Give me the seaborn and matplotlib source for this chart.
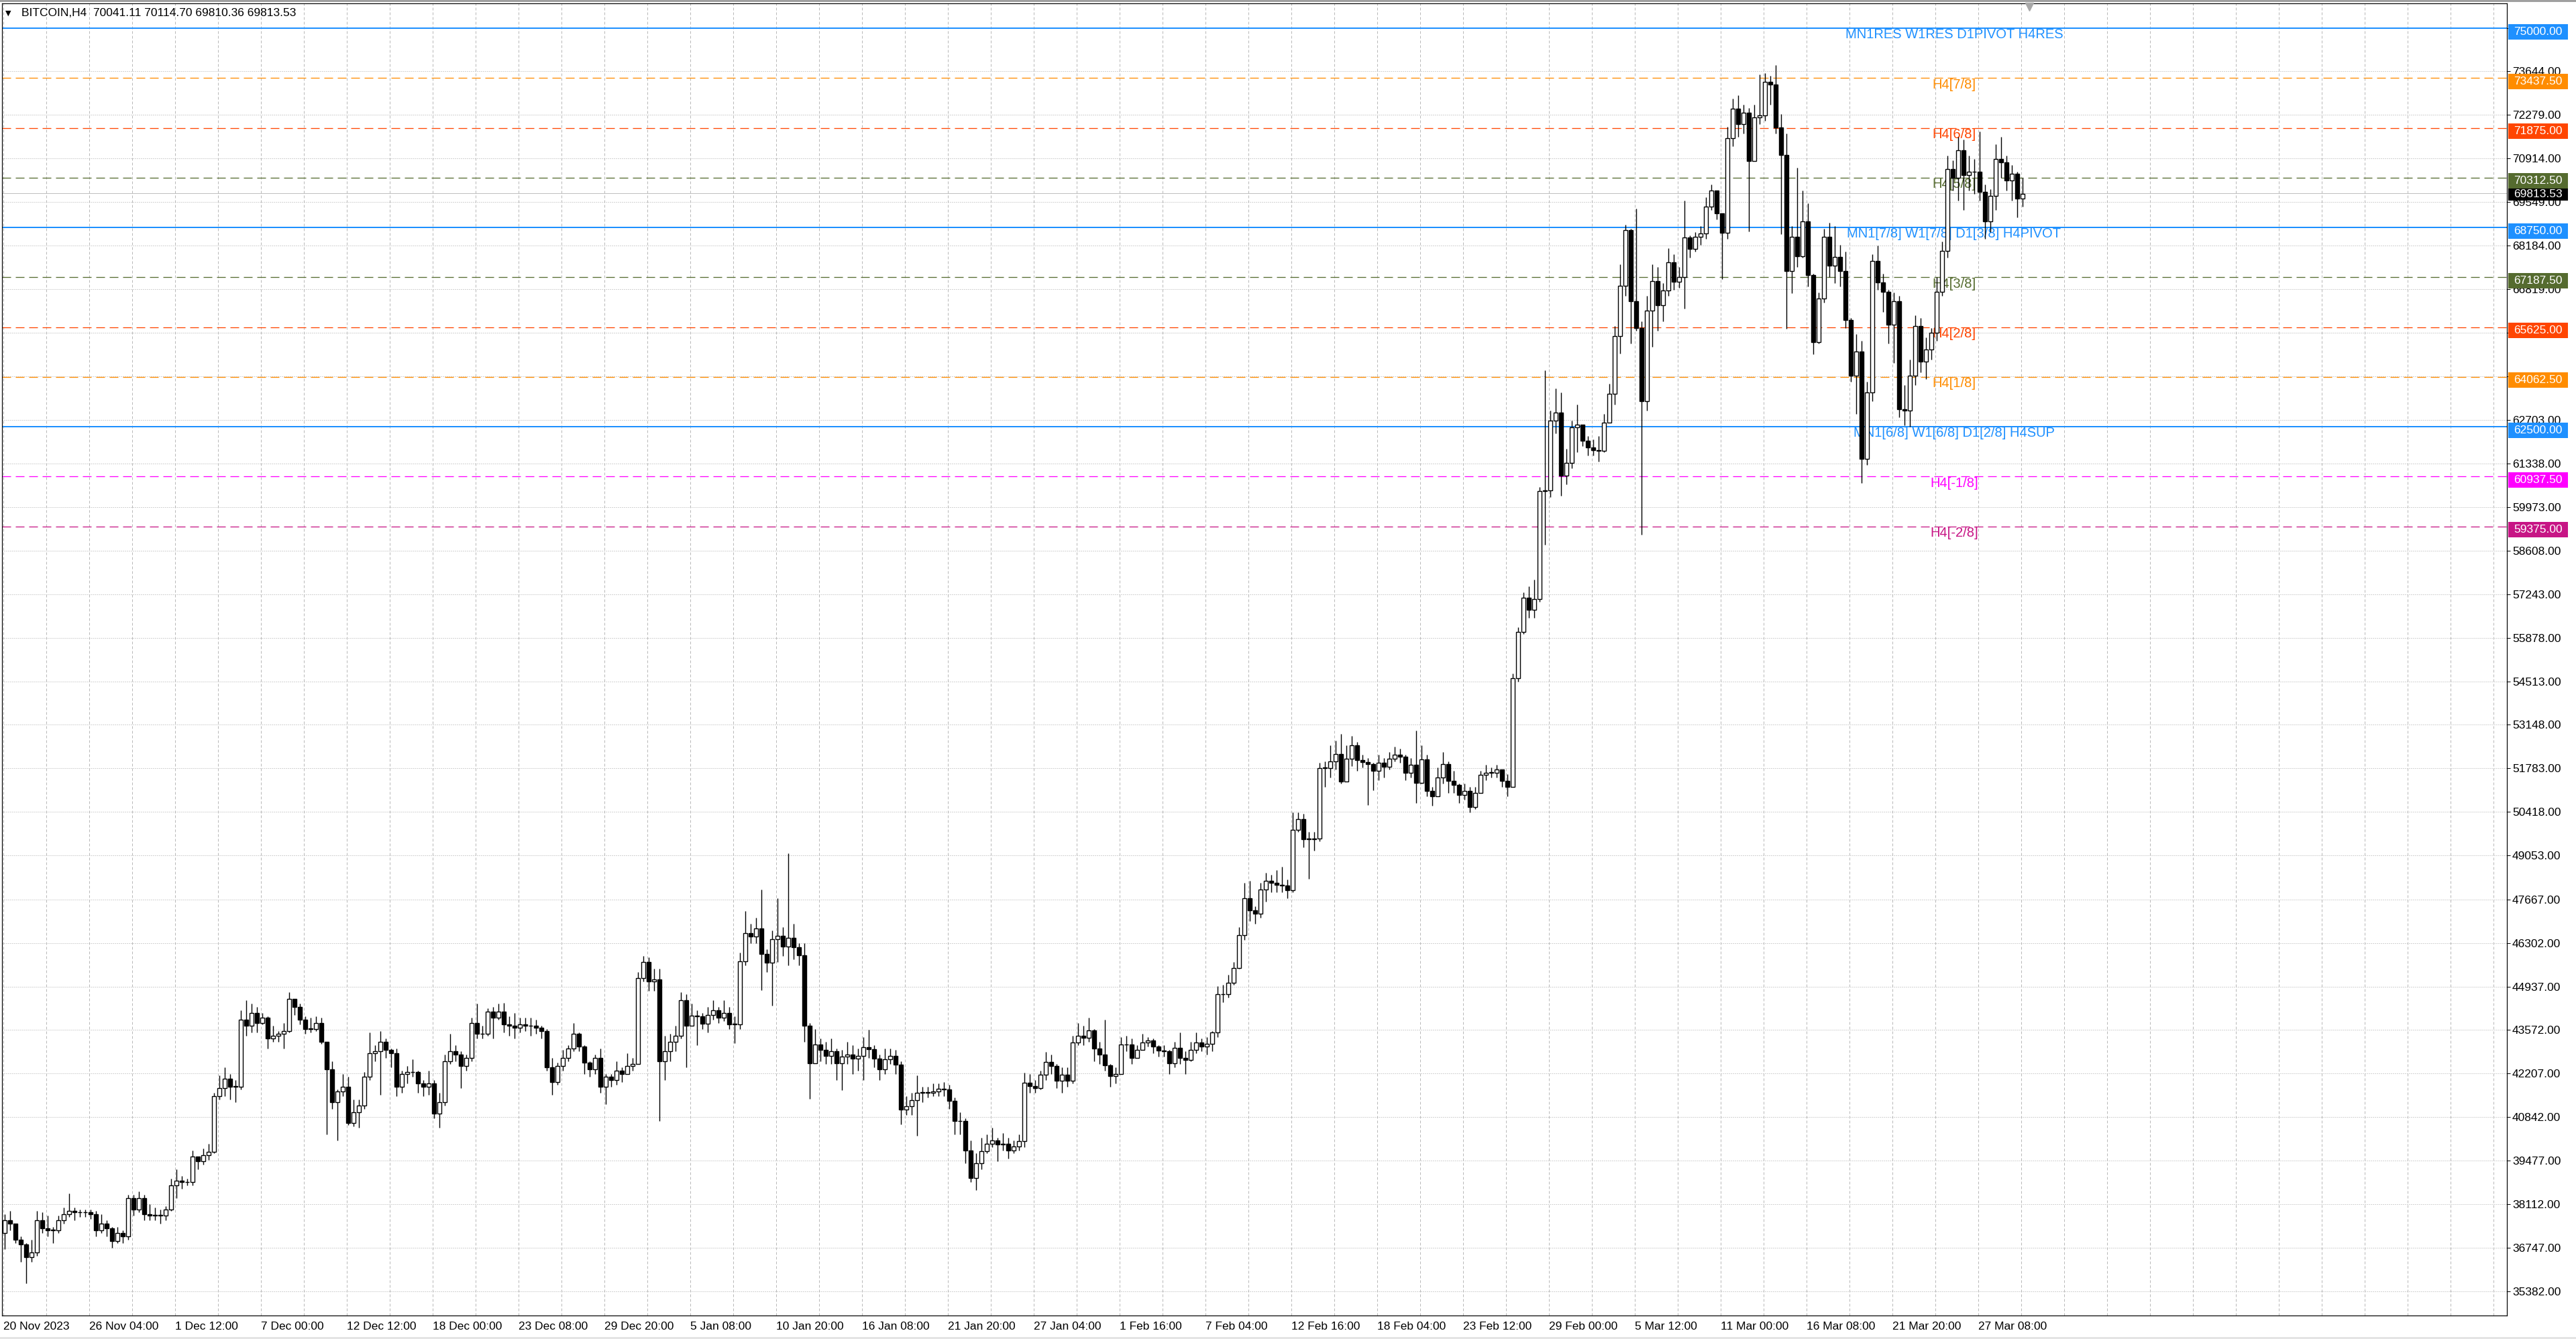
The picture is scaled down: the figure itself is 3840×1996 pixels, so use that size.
import numpy as np
import pandas as pd
import matplotlib
matplotlib.use("Agg")
import matplotlib.pyplot as plt
import seaborn as sns
from matplotlib.patches import Rectangle
from matplotlib.transforms import blended_transform_factory

first_open = 37.2
close_k = [
    # 20 Nov - 12 Dec
    37.6, 37.5, 37.0, 36.85, 36.45, 36.6, 37.6, 37.35, 37.3, 37.3, 37.6, 37.8, 37.9, 37.85, 37.85, 37.85,
    37.8, 37.3, 37.5, 37.35, 36.95, 37.2, 37.1, 38.3, 37.95, 38.3, 37.8, 37.75, 37.75, 37.75, 37.95, 38.7,
    38.85, 38.8, 38.8, 39.6, 39.45, 39.65, 39.75, 41.5, 41.75, 42.05, 41.8, 41.8, 43.9, 43.7, 44.1, 43.8,
    43.95, 43.3, 43.4, 43.45, 43.55, 44.55, 44.3, 43.9, 43.6, 43.6, 43.8, 43.2, 42.35, 41.3, 41.65, 41.8,
    # 12 Dec - 5 Jan
    40.65, 41.0, 41.2, 42.1, 42.85, 42.9, 43.2, 42.95, 42.85, 41.8, 42.2, 42.25, 42.25, 41.9, 41.8, 41.9,
    40.95, 41.3, 42.6, 42.9, 42.8, 42.45, 42.7, 43.8, 43.45, 43.45, 44.15, 43.95, 44.15, 43.75, 43.7, 43.65,
    43.75, 43.7, 43.7, 43.65, 43.55, 42.4, 41.95, 42.45, 42.7, 43.0, 43.45, 43.05, 42.55, 42.35, 42.7, 41.8,
    42.1, 42.0, 42.3, 42.2, 42.45, 42.5, 45.2, 45.7, 45.1, 45.15, 42.6, 42.9, 43.2, 43.4, 44.5, 43.7,
    # 5 Jan - 27 Jan
    44.03, 44.0, 43.77, 44.04, 44.19, 43.97, 44.11, 43.75, 43.75, 45.72, 46.62, 46.51, 46.75, 45.96, 45.69, 46.42,
    46.53, 46.2, 46.46, 46.17, 45.91, 43.7, 42.54, 43.11, 42.95, 42.76, 42.9, 42.52, 42.75, 42.81, 42.68, 42.76,
    43.04, 42.97, 42.67, 42.35, 42.65, 42.76, 42.48, 41.07, 41.19, 41.37, 41.6, 41.63, 41.6, 41.65, 41.73, 41.7,
    41.36, 40.71, 40.71, 39.8, 38.93, 39.39, 39.78, 40.0, 40.1, 39.98, 40.0, 39.8, 39.93, 40.08, 41.91, 41.82,
    # 27 Jan - 18 Feb
    41.76, 42.17, 42.58, 42.44, 41.98, 42.17, 41.99, 43.19, 43.4, 43.33, 43.56, 42.99, 42.81, 42.46, 42.14, 42.2,
    43.11, 43.12, 42.69, 42.95, 43.19, 43.25, 43.05, 42.92, 42.9, 42.52, 43.02, 42.7, 42.64, 42.95, 43.19, 43.05,
    43.14, 43.49, 44.69, 44.7, 45.06, 45.51, 46.54, 47.7, 47.33, 47.22, 47.97, 48.26, 48.2, 48.13, 48.1, 47.96,
    49.86, 50.2, 49.56, 49.56, 49.58, 51.79, 51.79, 52.0, 52.23, 51.36, 52.09, 52.51, 52.04, 51.97,
    # 18 Feb - 8 Mar
    51.92, 51.7, 51.96, 51.83, 52.08, 52.21, 52.15, 51.64, 51.9, 51.33, 52.06, 51.07, 50.91, 51.5, 51.92, 51.39,
    51.26, 50.95, 51.07, 50.57, 51.01, 51.58, 51.64, 51.64, 51.74, 51.39, 51.2, 54.61, 56.06, 57.13, 56.76, 57.1,
    60.48, 60.5, 62.69, 62.94, 60.96, 61.36, 62.47, 62.56, 62.06, 61.85, 61.77, 61.74, 62.63, 63.54, 65.34, 66.92,
    68.66, 66.44, 65.6, 63.3, 66.14, 67.07, 66.31, 66.77, 67.65, 67.05, 67.2, 68.44, 68.08, 68.46, 68.56,
    # 8 Mar - 28 Mar
    69.4, 69.91, 69.2, 68.58, 71.55, 72.48, 71.99, 72.35, 70.84, 72.21, 72.26, 73.32, 73.23, 71.89, 71.02, 67.39,
    68.45, 67.85, 68.94, 67.25, 65.16, 66.52, 68.45, 67.56, 67.83, 67.39, 65.84, 64.11, 64.86, 61.5, 63.58, 67.7,
    67.03, 66.72, 65.7, 66.43, 63.05, 63.0, 64.11, 65.66, 64.55, 64.91, 65.44, 66.72, 68.01, 70.59, 70.31, 71.18,
    70.4, 70.49, 70.49, 69.87, 68.94, 69.73, 70.89, 70.8, 70.22, 70.44, 69.65, 69.81,
]
high_k = [
    37.8, 37.9, 37.5, 37.1, 36.9, 37.0, 37.9, 37.85, 37.75, 37.4, 37.75, 38.0, 38.45, 38.0, 37.95, 37.95,
    37.95, 37.9, 37.8, 37.6, 37.4, 37.4, 37.3, 38.4, 38.4, 38.5, 38.4, 38.1, 38.0, 37.95, 38.05, 38.9,
    39.2, 39.0, 38.9, 39.8, 39.6, 39.85, 40.0, 41.6, 42.15, 42.4, 42.2, 42.0, 44.2, 44.5, 44.4, 44.3,
    44.1, 44.0, 43.7, 43.55, 43.8, 44.75, 44.55, 44.4, 44.0, 43.95, 44.0, 43.95, 43.2, 42.6, 41.7, 42.2,
    42.1, 41.4, 41.4, 42.25, 43.5, 43.1, 43.55, 43.3, 43.0, 43.0, 42.3, 42.45, 42.65, 42.3, 42.0, 42.3,
    42.0, 41.6, 42.8, 43.45, 43.1, 42.9, 42.8, 43.95, 44.4, 43.7, 44.25, 44.3, 44.4, 44.43, 44.0, 44.1,
    43.95, 43.95, 43.95, 43.9, 43.7, 43.6, 42.7, 42.55, 42.95, 43.1, 43.8, 43.5, 43.1, 42.6, 42.8, 43.0,
    42.2, 42.2, 42.6, 42.4, 42.85, 42.7, 45.4, 45.9, 45.85, 45.5, 45.5, 43.4, 43.45, 43.7, 44.75, 44.7,
    44.4, 44.2, 44.1, 44.3, 44.5, 44.3, 44.5, 44.3, 44.0, 46.0, 47.3, 46.9, 47.1, 47.97, 46.1, 46.7,
    47.7, 46.8, 49.11, 46.9, 46.3, 46.3, 43.8, 43.6, 43.3, 43.2, 43.3, 43.0, 42.95, 43.2, 43.1, 43.0,
    43.36, 43.59, 43.1, 42.8, 43.0, 43.0, 42.95, 42.6, 41.5, 41.6, 42.16, 41.8, 41.8, 41.9, 41.9, 41.95,
    41.85, 41.45, 41.0, 40.8, 40.1, 39.7, 40.2, 40.3, 40.5, 40.2, 40.35, 40.2, 40.1, 40.3, 42.24, 42.2,
    42.0, 42.3, 42.89, 42.8, 42.5, 42.4, 42.4, 43.4, 43.8, 43.7, 43.95, 43.6, 43.2, 43.9, 42.5, 42.4,
    43.35, 43.4, 43.3, 43.1, 43.45, 43.35, 43.3, 43.1, 43.1, 42.95, 43.2, 43.5, 42.9, 43.2, 43.5, 43.3,
    43.35, 43.55, 44.95, 45.0, 45.3, 45.7, 46.8, 48.2, 48.25, 47.45, 48.2, 48.5, 48.45, 48.6, 48.7, 48.3,
    50.4, 50.4, 50.35, 49.8, 49.8, 51.95, 52.0, 52.5, 52.65, 52.86, 52.5, 52.8, 52.6, 52.2,
    52.1, 51.95, 52.2, 52.1, 52.3, 52.46, 52.4, 52.2, 52.1, 52.97, 52.5, 52.2, 51.2, 51.8, 52.3, 52.0,
    51.7, 51.3, 51.3, 51.2, 51.2, 51.7, 51.9, 51.8, 51.9, 51.75, 51.6, 54.75, 56.2, 57.3, 57.5, 57.7,
    60.6, 64.27, 63.0, 63.7, 63.57, 61.8, 62.7, 63.2, 62.5, 62.2, 62.1, 62.2, 62.9, 63.85, 65.65, 67.6,
    68.84, 68.7, 69.34, 65.8, 66.6, 67.6, 67.5, 67.0, 68.1, 67.9, 67.5, 69.6, 68.5, 68.6, 68.8,
    69.7, 70.09, 69.7, 69.2, 71.9, 72.8, 72.9, 72.6, 72.5, 72.6, 73.55, 73.6, 73.5, 73.85, 72.3, 71.7,
    68.8, 70.62, 69.9, 69.5, 67.3, 66.7, 68.7, 68.9, 68.8, 68.2, 68.0, 65.9, 65.4, 65.2, 63.9, 67.9,
    68.18, 67.3, 66.8, 66.7, 66.6, 63.8, 64.6, 66.0, 65.9, 65.3, 65.6, 67.2, 68.3, 71.0, 70.86, 71.6,
    71.5, 71.0, 70.9, 71.77, 70.1, 69.95, 71.37, 71.6, 71.0, 70.7, 70.5, 70.3,
]
low_k = [
    36.7, 37.3, 36.9, 36.3, 35.62, 36.3, 36.5, 37.2, 37.1, 36.9, 37.2, 37.5, 37.7, 37.6, 37.7, 37.7,
    37.65, 37.1, 37.2, 37.1, 36.75, 36.9, 36.9, 37.0, 37.75, 37.85, 37.6, 37.6, 37.6, 37.5, 37.6, 37.9,
    38.3, 38.6, 38.7, 38.7, 39.2, 39.35, 39.5, 39.7, 41.4, 41.5, 41.4, 41.3, 41.7, 43.4, 43.5, 43.5,
    43.75, 43.0, 43.2, 43.2, 43.0, 43.5, 44.05, 43.75, 43.45, 43.5, 43.55, 43.15, 40.3, 41.1, 40.1, 41.5,
    40.6, 40.55, 40.5, 41.1, 42.0, 42.6, 41.55, 42.7, 42.4, 41.5, 41.6, 41.9, 42.1, 41.6, 41.5, 41.55,
    40.8, 40.5, 41.2, 42.5, 42.6, 41.75, 42.3, 42.6, 43.3, 43.3, 43.4, 43.3, 43.9, 43.5, 43.4, 43.3,
    43.5, 43.55, 43.4, 43.45, 43.3, 42.3, 41.55, 41.85, 42.3, 42.6, 42.9, 42.9, 42.2, 42.1, 42.2, 41.6,
    41.25, 41.8, 41.85, 41.95, 42.2, 42.3, 43.35, 45.1, 44.8, 44.8, 40.72, 42.0, 42.6, 42.9, 43.3, 42.4,
    43.7, 43.1, 43.6, 43.5, 43.9, 43.8, 43.85, 43.6, 43.17, 43.6, 45.6, 46.3, 46.3, 44.82, 45.4, 44.33,
    45.7, 45.9, 45.6, 45.8, 45.6, 43.2, 41.41, 42.6, 42.6, 42.5, 42.5, 42.0, 41.69, 42.5, 42.2, 42.3,
    42.0, 42.7, 42.4, 42.0, 42.2, 42.5, 42.2, 40.62, 40.9, 40.9, 40.25, 41.3, 41.45, 41.5, 41.5, 41.5,
    41.1, 40.3, 40.3, 39.4, 38.8, 38.56, 39.2, 39.7, 39.9, 39.46, 39.8, 39.55, 39.7, 39.8, 39.9, 41.6,
    41.6, 41.7, 42.0, 42.2, 41.75, 41.6, 41.8, 41.9, 43.1, 43.1, 43.2, 42.6, 42.5, 42.3, 41.8, 41.9,
    42.2, 42.9, 42.5, 42.7, 43.0, 43.05, 42.85, 42.75, 42.75, 42.2, 42.4, 42.5, 42.2, 42.6, 42.85, 42.9,
    42.8, 42.9, 43.35, 44.45, 44.6, 45.0, 45.5, 46.4, 47.0, 46.9, 47.1, 47.6, 47.9, 47.9, 47.9, 47.7,
    47.9, 49.8, 49.3, 48.32, 49.2, 49.5, 51.2, 51.5, 51.75, 51.3, 51.4, 51.85, 51.7, 51.8,
    50.63, 51.1, 51.4, 51.5, 51.75, 52.0, 51.95, 51.4, 51.5, 50.7, 51.3, 50.9, 50.6, 50.9, 51.3, 51.0,
    51.0, 50.7, 50.8, 50.4, 50.5, 51.0, 51.4, 51.5, 51.5, 51.2, 50.9, 51.2, 54.5, 56.0, 56.5, 56.5,
    57.0, 58.8, 60.3, 62.3, 60.33, 60.7, 61.2, 61.7, 61.9, 61.6, 61.6, 61.4, 61.7, 62.8, 63.2, 64.8,
    66.6, 65.1, 65.5, 59.12, 63.0, 65.0, 65.5, 65.8, 66.6, 66.8, 66.85, 66.2, 67.8, 68.0, 68.2,
    68.4, 69.3, 69.0, 67.12, 68.4, 71.3, 71.6, 71.7, 68.63, 71.0, 72.0, 72.1, 72.6, 71.7, 68.54, 65.57,
    66.68, 67.5, 67.8, 66.9, 64.77, 65.1, 66.4, 67.2, 67.0, 66.9, 65.6, 63.9, 62.9, 60.74, 61.3, 63.3,
    66.8, 66.1, 65.1, 64.5, 62.8, 62.55, 62.5, 63.8, 64.2, 64.0, 64.6, 65.2, 66.6, 67.8, 69.9, 69.6,
    69.3, 69.9, 69.8, 69.6, 68.4, 68.6, 69.3, 70.3, 69.9, 69.6, 69.07, 69.4,
]

date_labels = ["20 Nov 2023", "26 Nov 04:00", "1 Dec 12:00", "7 Dec 00:00", "12 Dec 12:00",
               "18 Dec 00:00", "23 Dec 08:00", "29 Dec 20:00", "5 Jan 08:00", "10 Jan 20:00",
               "16 Jan 08:00", "21 Jan 20:00", "27 Jan 04:00", "1 Feb 16:00", "7 Feb 04:00",
               "12 Feb 16:00", "18 Feb 04:00", "23 Feb 12:00", "29 Feb 00:00", "5 Mar 12:00",
               "11 Mar 00:00", "16 Mar 08:00", "21 Mar 20:00", "27 Mar 08:00"]
price_ticks = [75009, 73644, 72279, 70914, 69549, 68184, 66819, 65454, 64089, 62703, 61338, 59973,
               58608, 57243, 55878, 54513, 53148, 51783, 50418, 49053, 47667, 46302, 44937, 43572,
               42207, 40842, 39477, 38112, 36747, 35382]

levels = [75000, 73437.5, 71875, 70312.5, 68750, 67187.5, 65625, 64062.5, 62500, 60937.5, 59375]
level_names = ["MN1RES W1RES D1PIVOT H4RES", "H4[7/8]", "H4[6/8]", "H4[5/8]",
               "MN1[7/8] W1[7/8] D1[3/8] H4PIVOT", "H4[3/8]", "H4[2/8]", "H4[1/8]",
               "MN1[6/8] W1[6/8] D1[2/8] H4SUP", "H4[-1/8]", "H4[-2/8]"]
level_colors = ["#1E90FF", "#FF8C00", "#FF4500", "#556B2F", "#1E90FF", "#556B2F",
                "#FF4500", "#FF8C00", "#1E90FF", "#FF00FF", "#C71585"]
last_price = 69813.53
header = "BITCOIN,H4  70041.11 70114.70 69810.36 69813.53"

# ---- layout (pixels of the 3840x1996 screenshot) ----
W, H, DPI = 3840, 1996, 100
PX = 72 / DPI
USD_PX = 21.044          # dollars per screen pixel

sns.set_theme(style="white")
plt.rcParams["font.family"] = ["Liberation Sans", "DejaVu Sans"]
plt.rcParams["lines.scale_dashes"] = False

df = pd.DataFrame({"close": np.array(close_k) * 1000,
                   "high": np.array(high_k) * 1000,
                   "low": np.array(low_k) * 1000})
df["open"] = np.r_[first_open * 1000, df["close"].values[:-1]]
df["high"] = df[["high", "open", "close"]].max(axis=1)
df["low"] = df[["low", "open", "close"]].min(axis=1)
df["x"] = 2 * np.arange(len(df)) + 0.5      # two H4 bars per candle
df["up"] = df["close"] >= df["open"]

fig = plt.figure(figsize=(W / DPI, H / DPI), dpi=DPI)
fig.patch.set_facecolor("white")
ax = fig.add_axes([3 / W, (H - 1961) / H, (3737 - 3) / W, (1961 - 5) / H])
ax.set_facecolor("white")
ax.set_xlim(-0.5, 933)
ax.set_ylim(34617, 75779)

# grid
for p in price_ticks:
    ax.axhline(p, color="#A8A8A8", lw=1 * PX, ls=(0, (1 * PX, 2 * PX)), zorder=0)
for gx in range(0, 934, 16):
    ax.axvline(gx, color="#B8B8B8", lw=1 * PX, ls=(0, (4 * PX, 3 * PX)), zorder=0)

# level lines and names
for lv, name, col in zip(levels, level_names, level_colors):
    if col == "#1E90FF":
        ax.axhline(lv, color=col, lw=2 * PX, zorder=1)
    else:
        ax.axhline(lv, color=col, lw=1.3 * PX, ls=(0, (13 * PX, 7 * PX)), zorder=1)
    ax.text(727, lv - 210, name, color=col, fontsize=14.5, ha="center", va="center", zorder=2)
ax.axhline(last_price, color="#C0C0C0", lw=1 * PX, zorder=1)

# candles
ax.vlines(df["x"], df["low"], df["high"], color="black", lw=1.4 * PX, zorder=3)
body_lo = df[["open", "close"]].min(axis=1)
body_h = (df["close"] - df["open"]).abs().clip(lower=15)
ax.bar(df["x"], body_h, bottom=body_lo, width=1.3,
       color=np.where(df["up"], "white", "black"), edgecolor="black",
       linewidth=1.4 * PX, zorder=4)

# axes frame and ticks
for s in ax.spines.values():
    s.set_color("black")
    s.set_linewidth(1.2 * PX)
ax.set_xticks([32 * k for k in range(len(date_labels))])
ax.set_xticklabels(date_labels, ha="left")
ax.yaxis.tick_right()
ax.set_yticks(price_ticks)
ax.set_yticklabels([f"{p:.2f}" for p in price_ticks])
ax.tick_params(axis="both", direction="out", length=5 * PX, width=1 * PX, color="black",
               labelsize=12.5, labelcolor="black", pad=3 * PX)
ax.tick_params(axis="x", pad=4 * PX)

# coloured price boxes on the right scale
tr = blended_transform_factory(fig.transFigure, ax.transData)
bx0, bw = 3739 / W, 89 / W
for lv, col in zip(levels, level_colors):
    yc = lv - 5 * USD_PX
    ax.add_patch(Rectangle((bx0, yc - 11.5 * USD_PX), bw, 23 * USD_PX, transform=tr,
                           facecolor=col, edgecolor="none", clip_on=False, zorder=10))
    ax.text(bx0 + bw / 2, yc, f"{lv:.2f}", transform=tr, color="white", fontsize=12.5,
            ha="center", va="center", zorder=11, clip_on=False)
yc = last_price - 1.5 * USD_PX
ax.add_patch(Rectangle((bx0, yc - 9 * USD_PX), bw, 18 * USD_PX, transform=tr,
                       facecolor="black", edgecolor="none", clip_on=False, zorder=12))
ax.text(bx0 + bw / 2, yc, f"{last_price:.2f}", transform=tr, color="white", fontsize=12.5,
        ha="center", va="center", zorder=13, clip_on=False)

# chart shift marker and header
ax.plot([755], [75000 + 32 * USD_PX], marker="v", ms=12 * PX, color="#A8A8A8",
        mec="#A8A8A8", clip_on=False, zorder=5)
fig.text(8 / W, 1 - 20 / H, "\u25bc", fontsize=8, family=["DejaVu Sans"], va="center", color="black")
fig.text(32 / W, 1 - 20 / H, header, fontsize=12.5, va="center", color="black")

# window edges
fig.patches.append(Rectangle((0, 1 - 3 / H), 1, 3 / H, transform=fig.transFigure,
                             facecolor="#A0A0A0", edgecolor="none"))
fig.patches.append(Rectangle((0, 0), 1, 3 / H, transform=fig.transFigure,
                             facecolor="#E4E4E4", edgecolor="none"))

fig.savefig("out.png", dpi=DPI, facecolor="white")
